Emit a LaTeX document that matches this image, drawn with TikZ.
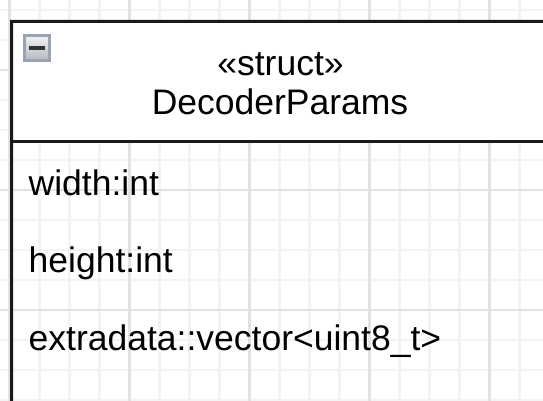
\documentclass[tikz,border=0pt]{standalone}
\usepackage{fontspec}
\setmainfont{Liberation Sans}
\definecolor{minorgrid}{HTML}{F3F3F3}
\definecolor{majorgrid}{HTML}{E2E2E2}
\definecolor{iconedge}{HTML}{9AA3B3}
\definecolor{icontop}{HTML}{F2F2F4}
\definecolor{iconbottom}{HTML}{B4B8C0}
\begin{document}
\begin{tikzpicture}[x=1pt,y=-1pt,
  gridminor/.style={draw=minorgrid, line width=2.5pt},
  gridmajor/.style={draw=majorgrid, line width=2.5pt},
  outline/.style={draw=black!90, line width=3pt},
  classlabel/.style={font=\fontsize{35.5}{40}\selectfont, inner sep=0pt, text=black},
  collapsebox/.style={draw=iconedge, line width=2.5pt, top color=icontop, bottom color=iconbottom,
    minimum size=25pt, inner sep=0pt},
]
\useasboundingbox (0,0) rectangle (543,401);
\begin{scope}
\clip (0,0) rectangle (543,401);
% background grid: minor lines every 30, major every 120
\foreach \k in {0,...,18}{
  \pgfmathsetmacro\xx{9.3+30*\k}
  \draw[gridminor] (\xx,0) -- (\xx,401);
}
\foreach \k in {0,...,13}{
  \pgfmathsetmacro\yy{10+30*\k}
  \draw[gridminor] (0,\yy) -- (543,\yy);
}
\foreach \xx in {9.3,129.3,249.3,369.3,489.3}
  \draw[gridmajor] (\xx,0) -- (\xx,401);
\foreach \yy in {70,190,310}
  \draw[gridmajor] (0,\yy) -- (543,\yy);

% class header (white) and attribute compartment (transparent)
\node[fill=white, anchor=north west, minimum width=537pt, minimum height=119.5pt, inner sep=0pt]
  (header) at (11.5,21.5) {};
\draw[outline] (header.north east) -- (header.north west) -- (11.5,430) -- (548.5,430) -- (header.south east);
\draw[outline] (header.south west) -- (header.south east);

% collapse toggle
\node[collapsebox] (toggle) at (37,48) {};
\draw[line width=3.5pt, black!80] ([xshift=-8pt]toggle.center) -- ([xshift=8pt]toggle.center);

% titles
\node[classlabel, anchor=base] (stereo) at (280.5,76) {«struct»};
\node[classlabel, anchor=base] (title) at (280,115) {DecoderParams};

% attributes
\node[classlabel, anchor=base west] (attrwidth) at (28.5,195) {width:int};
\node[classlabel, anchor=base west] (attrheight) at (28.5,272.7) {height:int};
\node[classlabel, anchor=base west] (attrextra) at (28.5,350) {extradata::vector<uint8\_t>};
\end{scope}
\end{tikzpicture}
\end{document}
